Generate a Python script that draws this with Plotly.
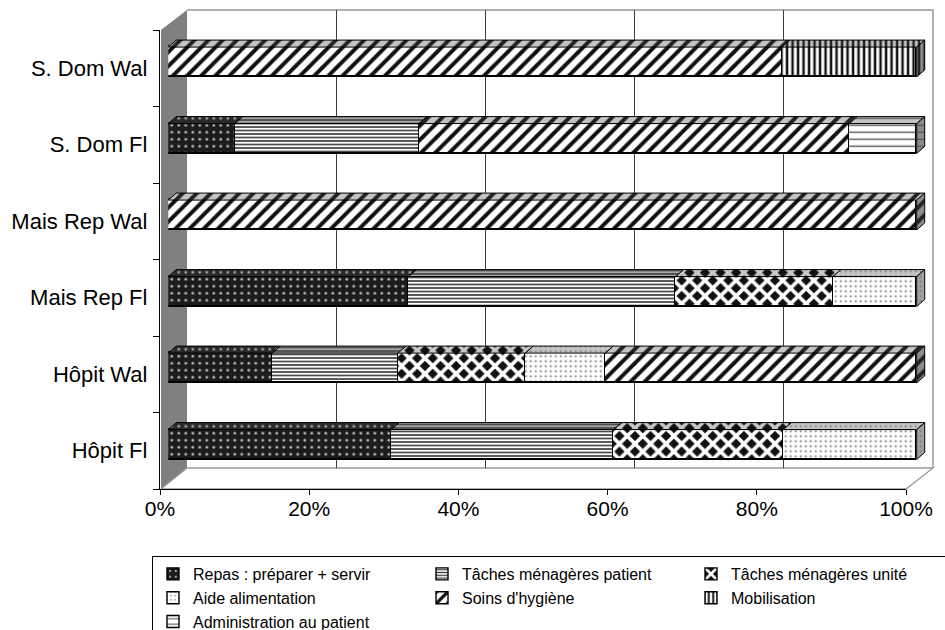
import plotly.graph_objects as go

W, H = 945, 630

# ---- data -------------------------------------------------------------
categories = ["Hôpit Fl", "Hôpit Wal", "Mais Rep Fl", "Mais Rep Wal", "S. Dom Fl", "S. Dom Wal"]

repas = [29.8, 13.9, 32.1, 0, 8.9, 0]
taches_patient = [29.7, 16.8, 35.7, 0, 24.6, 0]
taches_unite = [22.7, 17.0, 21.0, 0, 0, 0]
aide_alimentation = [17.8, 10.7, 11.2, 0, 0, 0]
soins_hygiene = [0, 41.6, 0, 100, 57.5, 82.0]
mobilisation = [0, 0, 0, 0, 0, 18.0]
administration = [0, 0, 0, 0, 9.0, 0]

series_names = [
    "Repas : préparer + servir",
    "Tâches ménagères patient",
    "Tâches ménagères unité",
    "Aide alimentation",
    "Soins d'hygiène",
    "Mobilisation",
    "Administration au patient",
]
series_values = [repas, taches_patient, taches_unite, aide_alimentation,
                 soins_hygiene, mobilisation, administration]

tick_values = [0, 20, 40, 60, 80, 100]
tick_labels = ["0%", "20%", "40%", "60%", "80%", "100%"]

# ---- styles (hatch fills in the Excel 3D look) -------------------------
styles = [
    dict(shape=".", fg="#d8d8d8", bg="#1c1c1c", size=7, sol=0.10, top_fg="#bbbbbb", top_bg="#2a2a2a", cap_bg="#111111"),
    dict(shape="-", fg="#3a3a3a", bg="#ffffff", size=3.5, sol=0.45, top_fg="#444444", top_bg="#a8a8a8", cap_bg="#777777"),
    dict(shape="x", fg="#ffffff", bg="#111111", size=11, sol=0.55, top_fg="#c8c8c8", top_bg="#111111", cap_bg="#111111"),
    dict(shape=".", fg="#6a6a6a", bg="#ffffff", size=5, sol=0.12, top_fg="#777777", top_bg="#c4c4c4", cap_bg="#a0a0a0"),
    dict(shape="/", fg="#111111", bg="#ffffff", size=10, sol=0.4, top_fg="#222222", top_bg="#c4c4c4", cap_bg="#8c8c8c"),
    dict(shape="|", fg="#111111", bg="#ffffff", size=5.5, sol=0.45, top_fg="#222222", top_bg="#c4c4c4", cap_bg="#8c8c8c"),
    dict(shape="-", fg="#555555", bg="#ffffff", size=7, sol=0.2, top_fg="#555555", top_bg="#c4c4c4", cap_bg="#8c8c8c"),
]

FONT = "Liberation Sans, Arial, sans-serif"
BAR_W = 0.39          # bar thickness in category units
DEPTH_X = 1.07        # 3D depth offset, in % units
DEPTH_Y = 0.0915      # 3D depth offset, in category units


def fx(px):
    return px / W


def fy(py):
    return 1 - py / H


fig = go.Figure()

# wall subplot (back wall gridlines)
fig.add_trace(go.Scatter(x=[0], y=[0], mode="markers", marker=dict(opacity=0),
                         showlegend=False, hoverinfo="skip", xaxis="x", yaxis="y"))

# stacked front faces
rows = list(range(len(categories)))
for name, vals, st in zip(series_names, series_values, styles):
    fig.add_trace(go.Bar(
        x=vals, y=rows, orientation="h", name=name, width=BAR_W,
        xaxis="x2", yaxis="y2",
        marker=dict(
            color=st["bg"],
            pattern=dict(shape=st["shape"], fgcolor=st["fg"], bgcolor=st["bg"],
                         size=st["size"], solidity=st["sol"], fillmode="replace"),
            line=dict(color="black", width=1.4),
        ),
        hoverinfo="skip",
    ))

# top faces and end caps derived from the stacked values
starts = [0.0] * len(categories)
for name, vals, st in zip(series_names, series_values, styles):
    tx, ty, cx, cy = [], [], [], []
    for i, v in enumerate(vals):
        s = starts[i]
        if v > 0:
            yt = i + BAR_W / 2
            yb = i - BAR_W / 2
            tx += [s, s + v, s + v + DEPTH_X, s + DEPTH_X, s, None]
            ty += [yt, yt, yt + DEPTH_Y, yt + DEPTH_Y, yt, None]
            if s + v >= 99.9:
                e = s + v
                cx += [e, e, e + DEPTH_X, e + DEPTH_X, e, None]
                cy += [yb, yt, yt + DEPTH_Y, yb + DEPTH_Y, yb, None]
        starts[i] = s + v
    pat_top = dict(shape=st["shape"], fgcolor=st["top_fg"], bgcolor=st["top_bg"],
                   size=st["size"], solidity=st["sol"], fillmode="replace")
    pat_cap = dict(shape=st["shape"], fgcolor=st["top_fg"], bgcolor=st["cap_bg"],
                   size=st["size"], solidity=st["sol"], fillmode="replace")
    if tx:
        fig.add_trace(go.Scatter(x=tx, y=ty, mode="lines", fill="toself",
                                 fillcolor=st["top_bg"], fillpattern=pat_top,
                                 line=dict(color="black", width=1),
                                 showlegend=False, hoverinfo="skip",
                                 xaxis="x2", yaxis="y2"))
    if cx:
        fig.add_trace(go.Scatter(x=cx, y=cy, mode="lines", fill="toself",
                                 fillcolor=st["cap_bg"], fillpattern=pat_cap,
                                 line=dict(color="black", width=1),
                                 showlegend=False, hoverinfo="skip",
                                 xaxis="x2", yaxis="y2"))

# visible category / percentage axes
fig.add_trace(go.Scatter(x=[0] * len(categories), y=categories, mode="markers",
                         marker=dict(opacity=0), showlegend=False, hoverinfo="skip",
                         xaxis="x3", yaxis="y3"))

PX_PER_PCT = 7.484
bar_left = 168.3
bar_range = 102

shapes = [
    # left side wall
    dict(type="path", xref="paper", yref="paper", layer="below",
         path=f"M{fx(161)},{fy(30)} L{fx(187)},{fy(10)} L{fx(187)},{fy(468)} L{fx(161)},{fy(489)} Z",
         fillcolor="#808080", line=dict(width=0)),
    # floor
    dict(type="path", xref="paper", yref="paper", layer="below",
         path=f"M{fx(161)},{fy(489)} L{fx(187)},{fy(468)} L{fx(933)},{fy(468)} L{fx(906)},{fy(489)} Z",
         fillcolor="white", line=dict(color="#999999", width=1.3)),
    # back wall border
    dict(type="path", xref="paper", yref="paper", layer="below",
         path=f"M{fx(187)},{fy(10)} L{fx(933)},{fy(10)} L{fx(933)},{fy(468)}",
         line=dict(color="#999999", width=1.5)),
]

fig.update_layout(
    width=W, height=H,
    margin=dict(l=0, r=0, t=0, b=0, autoexpand=False),
    paper_bgcolor="white", plot_bgcolor="rgba(0,0,0,0)",
    barmode="stack", bargap=0,
    hovermode=False,
    font=dict(family=FONT, color="black"),
    shapes=shapes,
    xaxis=dict(domain=[fx(187), fx(933)], range=[0, 100], tickvals=tick_values,
               showgrid=True, gridcolor="#3c3c3c", gridwidth=1, showticklabels=False,
               ticks="", zeroline=False, showline=False, anchor="y", fixedrange=True),
    yaxis=dict(domain=[fy(468), fy(10)], range=[0, 1], visible=False, anchor="x",
               fixedrange=True),
    xaxis2=dict(domain=[fx(bar_left), fx(bar_left + bar_range * PX_PER_PCT)],
                range=[0, bar_range], visible=False, anchor="y2", fixedrange=True),
    yaxis2=dict(domain=[fy(444.5 + 38.25), fy(62 - 38.25)], range=[-0.5, 5.5],
                visible=False, anchor="x2", fixedrange=True),
    xaxis3=dict(domain=[fx(160), fx(906)], range=[0, 100], tickvals=tick_values,
                ticktext=tick_labels, ticks="outside", ticklen=5, tickcolor="black",
                showline=True, linecolor="black", linewidth=1.3, showgrid=False,
                zeroline=False, anchor="y3", tickfont=dict(size=21),
                ticklabelstandoff=-4, fixedrange=True),
    yaxis3=dict(domain=[fy(489), fy(30)], type="category", categoryorder="array",
                categoryarray=categories, range=[-0.5, 5.5], tickson="boundaries",
                ticks="outside", ticklen=6, tickcolor="black", showline=True,
                linecolor="black", linewidth=1.3, showgrid=False, anchor="x3",
                tickfont=dict(size=22), ticklabelstandoff=7, fixedrange=True),
    legend=dict(orientation="h", x=fx(152), y=fy(556), xanchor="left", yanchor="top",
                entrywidth=224, entrywidthmode="pixels", bordercolor="black",
                borderwidth=1, bgcolor="white", font=dict(size=16),
                traceorder="normal", itemclick=False, itemdoubleclick=False),
)

fig.write_html("out.html")
